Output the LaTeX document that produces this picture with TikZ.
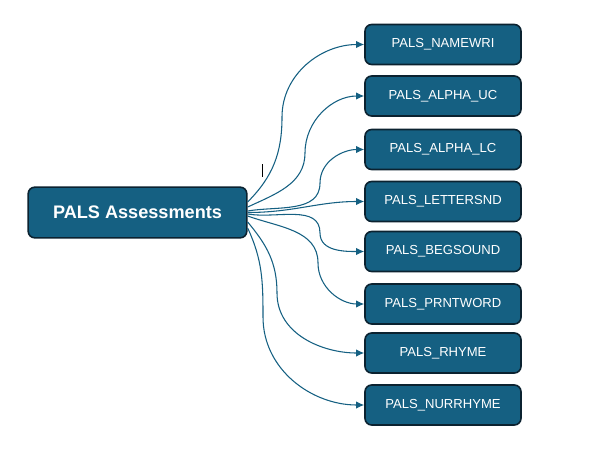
\documentclass[tikz,border=0pt]{standalone}
\usepackage{fontspec}
\setmainfont{Liberation Sans}
\usetikzlibrary{arrows.meta}
\definecolor{palsblue}{HTML}{156082}
\definecolor{palsedge}{HTML}{0B2230}
\tikzset{
  box/.style={draw=palsedge, fill=palsblue, line width=1.2pt, rounded corners=5pt, text=white},
  mainbox/.style={box, font=\bfseries\fontsize{13.6}{16}\selectfont, minimum width=164pt, minimum height=38pt},
  itembox/.style={box, font=\fontsize{9.8}{12}\selectfont, minimum width=117pt, minimum height=30pt},
  conn/.style={palsblue, line width=0.8pt, ->}
}
\begin{document}
\begin{tikzpicture}[x=0.75pt, y=-0.75pt, >={Latex[length=6pt,width=5.5pt]}]
\useasboundingbox (0,0) rectangle (605,457);
\node[mainbox] (main) at (137.5,212.5) {PALS Assessments};
\foreach \name/\txt/\y in {namewri/NAMEWRI/44.5, alphauc/ALPHA\_UC/96, alphalc/ALPHA\_LC/149.5,
    lettersnd/LETTERSND/201.5, begsound/BEGSOUND/251.5, prntword/PRNTWORD/304,
    rhyme/RHYME/353, nurrhyme/NURRHYME/405}
  \node[itembox] (\name) at (443,\y) {PALS\_\txt};
% upward connectors
\draw[conn] ([yshift=7.9pt]main.east) to[out=45,in=-90] (282,117) to[out=90,in=180] (namewri.west);
\draw[conn] ([yshift=4.1pt]main.east) to[out=25,in=-90] (305,153) to[out=90,in=180] (alphauc.west);
\draw[conn] ([yshift=1.1pt]main.east) to[out=10,in=-90] (320,183) to[out=90,in=180] (alphalc.west);
\draw[conn] (main.east) to[out=0,in=180] (lettersnd.west);
% downward connectors
\draw[conn] ([yshift=-1.1pt]main.east) to[out=-10,in=90] (320,233) to[out=-90,in=180] (begsound.west);
\draw[conn] ([yshift=-2.6pt]main.east) to[out=-20,in=90] (318,263) to[out=-90,in=180] (prntword.west);
\draw[conn] ([yshift=-7.1pt]main.east) to[out=-50,in=90] (277,293) to[out=-90,in=180] (rhyme.west);
\draw[conn] ([yshift=-11.6pt]main.east) to[out=-65,in=90] (263,317) to[out=-90,in=180] (nurrhyme.west);
% text cursor
\draw[line width=0.75pt] (262.3,164.3) -- (262.3,176.7);
\end{tikzpicture}
\end{document}
